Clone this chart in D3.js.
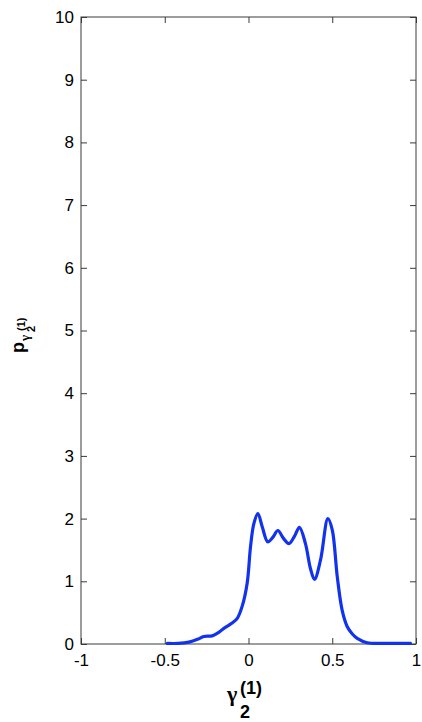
<!DOCTYPE html>
<html>
<head>
<meta charset="utf-8">
<script src="https://cdn.jsdelivr.net/npm/d3@7"></script>
<style>
  html, body { margin: 0; padding: 0; background: #fff; }
  svg { display: block; }
  text { font-family: Arial, "Liberation Sans", sans-serif; fill: #000; }
  .greek { font-family: "Liberation Serif", "DejaVu Serif", serif; }
</style>
</head>
<body>
<svg id="chart" width="422" height="722"></svg>
<script>
// Estimated density of gamma_2^(1)
const gammaValues = [-0.485, -0.42, -0.356, -0.30, -0.267, -0.217, -0.18, -0.147, -0.10, -0.067, -0.038,
  -0.008, 0.012, 0.032, 0.056, 0.082, 0.115, 0.145, 0.175, 0.21, 0.241, 0.275, 0.304, 0.34,
  0.37, 0.394, 0.43, 0.474, 0.50, 0.53, 0.559, 0.589, 0.62, 0.649, 0.709, 0.80, 0.90, 0.967];
const densityValues = [0.01, 0.01, 0.03, 0.08, 0.12, 0.13, 0.18, 0.25, 0.33, 0.41, 0.6,
  0.97, 1.55, 1.92, 2.08, 1.87, 1.63, 1.7, 1.81, 1.68, 1.6, 1.72, 1.86, 1.6,
  1.2, 1.03, 1.34, 2.0, 1.82, 1.07, 0.54, 0.28, 0.16, 0.09, 0.02, 0.01, 0.01, 0.01];
const xTickValues = [-1, -0.5, 0, 0.5, 1];
const xTickLabels = ["-1", "-0.5", "0", "0.5", "1"];
const yTickValues = [0, 1, 2, 3, 4, 5, 6, 7, 8, 9, 10];

const svg = d3.select("#chart");
const plotLeft = 81, plotRight = 416, plotTop = 17, plotBottom = 644;

const x = d3.scaleLinear().domain([-1, 1]).range([plotLeft, plotRight]);
const y = d3.scaleLinear().domain([0, 10]).range([plotBottom, plotTop]);
const tickLen = 6;

// Frame with inward ticks on all four sides
svg.append("rect")
  .attr("x", plotLeft).attr("y", plotTop)
  .attr("width", plotRight - plotLeft).attr("height", plotBottom - plotTop)
  .attr("fill", "none").attr("stroke", "#3a3a3a").attr("stroke-width", 1);

const xb = svg.append("g").attr("transform", `translate(0,${plotBottom})`)
  .call(d3.axisBottom(x).tickValues(xTickValues)
    .tickFormat((d, i) => xTickLabels[i]).tickSizeInner(-tickLen).tickSizeOuter(0).tickPadding(10));
const xt = svg.append("g").attr("transform", `translate(0,${plotTop})`)
  .call(d3.axisTop(x).tickValues(xTickValues).tickFormat("").tickSizeInner(-tickLen).tickSizeOuter(0));
const yl = svg.append("g").attr("transform", `translate(${plotLeft},0)`)
  .call(d3.axisLeft(y).tickValues(yTickValues).tickFormat(d3.format("d"))
    .tickSizeInner(-tickLen).tickSizeOuter(0).tickPadding(7));
const yr = svg.append("g").attr("transform", `translate(${plotRight},0)`)
  .call(d3.axisRight(y).tickValues(yTickValues).tickFormat("").tickSizeInner(-tickLen).tickSizeOuter(0));

[xb, xt, yl, yr].forEach(g => {
  g.select(".domain").remove();
  g.selectAll(".tick line").attr("stroke", "#3a3a3a");
  g.selectAll(".tick text").style("font-size", "17px").attr("fill", "#000");
});

// Density curve
const pts = gammaValues.map((g, i) => [g, densityValues[i]]);
svg.append("path")
  .datum(pts)
  .attr("fill", "none")
  .attr("stroke", "#1133ee")
  .attr("stroke-width", 3.2)
  .attr("stroke-linejoin", "round")
  .attr("stroke-linecap", "round")
  .attr("d", d3.line().x(d => x(d[0])).y(d => y(d[1])).curve(d3.curveCatmullRom.alpha(0.5)));

// x-axis label: gamma_2^(1)
const xl = svg.append("text").style("font-weight", "bold");
xl.append("tspan").attr("class", "greek").attr("x", 227).attr("y", 701).style("font-size", "22px").text("γ");
xl.append("tspan").attr("x", 240).attr("y", 718).style("font-size", "18px").text("2");
xl.append("tspan").attr("x", 240).attr("y", 694).style("font-size", "18px").text("(1)");

// y-axis label: p_{gamma_2^(1)}
const ylab = svg.append("g").attr("transform", "translate(24,353) rotate(-90)")
  .append("text").style("font-weight", "bold");
ylab.append("tspan").attr("x", 0).attr("y", 0).style("font-size", "18px").text("p");
ylab.append("tspan").attr("class", "greek").attr("x", 12).attr("y", 5).style("font-size", "13px").text("γ");
ylab.append("tspan").attr("x", 21).attr("y", 11).style("font-size", "11px").text("2");
ylab.append("tspan").attr("x", 22).attr("y", 1).style("font-size", "11px").text("(1)");
</script>
</body>
</html>
